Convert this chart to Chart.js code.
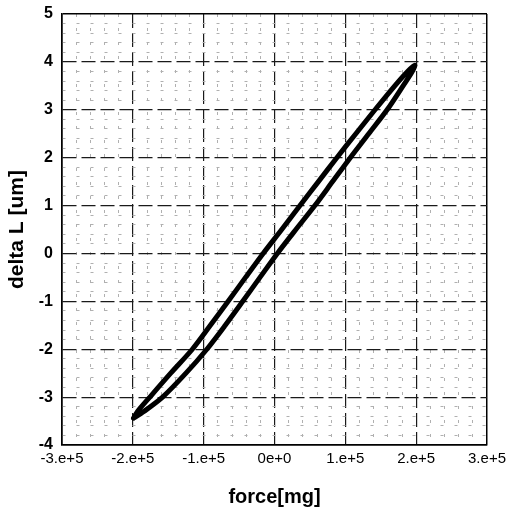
<!DOCTYPE html>
<html>
<head>
<meta charset="utf-8">
<script src="https://cdn.jsdelivr.net/npm/chart.js@4/dist/chart.umd.min.js"></script>
<style>
  html, body { margin: 0; padding: 0; background: #fff; }
  #wrap { width: 507px; height: 514px; position: relative; }
</style>
</head>
<body>
<div id="wrap"><canvas id="c"></canvas></div>
<script>
// Loading branch (upper/left side of the loop), from bottom tip to top tip
const upperForce = [-199000, -193400, -176000, -146500, -116000, -90500, -65400, -40900, -16000, 10200, 36000, 62000, 88000, 114800, 141900, 169800, 187900, 198000];
const upperDelta = [-3.44, -3.3, -3.0, -2.5, -2.0, -1.5, -1.0, -0.5, 0.0, 0.5, 1.0, 1.5, 2.0, 2.5, 3.0, 3.5, 3.8, 3.93];
// Unloading branch (lower/right side), from top tip back to bottom tip
const lowerForce = [198000, 194500, 181500, 159000, 133000, 107000, 82000, 57000, 30200, 4000, -20500, -44800, -69500, -95500, -125000, -158000, -184400, -199000];
const lowerDelta = [3.93, 3.8, 3.5, 3.0, 2.5, 2.0, 1.5, 1.0, 0.5, 0.0, -0.5, -1.0, -1.5, -2.0, -2.5, -3.0, -3.3, -3.44];

const xTickValues = [-300000, -200000, -100000, 0, 100000, 200000, 300000];
const xTickLabels = ['-3.e+5', '-2.e+5', '-1.e+5', '0e+0', '1.e+5', '2.e+5', '3.e+5'];
const yTickValues = [-4, -3, -2, -1, 0, 1, 2, 3, 4, 5];
const yTickLabels = ['-4', '-3', '-2', '-1', '0', '1', '2', '3', '4', '5'];

const loop = [];
upperForce.forEach((f, i) => loop.push({ x: f, y: upperDelta[i] }));
lowerForce.forEach((f, i) => { if (i > 0) loop.push({ x: f, y: lowerDelta[i] }); });

const X_MIN = -300000, X_MAX = 300000, Y_MIN = -4, Y_MAX = 5;

function majorIndex(values, v, tol) {
  for (let i = 0; i < values.length; i++) if (Math.abs(values[i] - v) < tol) return i;
  return -1;
}

function gridOpts(values, tol, min, max) {
  const isEdge = v => Math.abs(v - min) < tol || Math.abs(v - max) < tol;
  return {
    grid: {
      drawTicks: false,
      color: ctx => {
        const v = ctx.tick ? ctx.tick.value : 0;
        if (isEdge(v)) return '#000';
        return majorIndex(values, v, tol) >= 0 ? '#1a1a1a' : '#b0b0b0';
      },
      lineWidth: ctx => {
        const v = ctx.tick ? ctx.tick.value : 0;
        if (isEdge(v)) return 1.5;
        return majorIndex(values, v, tol) >= 0 ? 1.2 : 1;
      }
    },
    border: {
      display: true,
      color: '#000',
      width: 1.5,
      dash: ctx => {
        const v = ctx.tick ? ctx.tick.value : 0;
        if (isEdge(v)) return [];
        return majorIndex(values, v, tol) >= 0 ? [14, 5] : [3, 11];
      }
    }
  };
}

const xg = gridOpts(xTickValues, 1, X_MIN, X_MAX);
const yg = gridOpts(yTickValues, 1e-6, Y_MIN, Y_MAX);

new Chart(document.getElementById('c'), {
  type: 'scatter',
  data: {
    datasets: [{
      data: loop,
      showLine: true,
      borderColor: '#000',
      borderWidth: 5,
      pointRadius: 0,
      tension: 0.3,
      borderJoinStyle: 'round',
      borderCapStyle: 'round',
      fill: false
    }]
  },
  options: {
    responsive: true,
    maintainAspectRatio: false,
    animation: false,
    events: [],
    layout: { padding: { top: 14, right: 20, left: 0, bottom: 0 } },
    plugins: { legend: { display: false }, tooltip: { enabled: false } },
    scales: {
      x: {
        type: 'linear',
        min: X_MIN, max: X_MAX,
        afterFit: s => { s.height = 69; s.paddingLeft = 0; s.paddingRight = 0; },
        ticks: {
          stepSize: 20000,
          autoSkip: false,
          maxRotation: 0,
          padding: 5,
          color: '#000',
          font: { family: 'Liberation Sans, Arial, sans-serif', size: 15 },
          callback: v => {
            const i = majorIndex(xTickValues, v, 1);
            return i >= 0 ? xTickLabels[i] : '';
          }
        },
        grid: xg.grid,
        border: xg.border,
        title: {
          display: true,
          text: 'force[mg]',
          color: '#000',
          font: { family: 'Liberation Sans, Arial, sans-serif', size: 20, weight: 'bold' },
          padding: { top: 0, bottom: 5 }
        }
      },
      y: {
        type: 'linear',
        min: Y_MIN, max: Y_MAX,
        afterFit: s => { s.width = 62; s.paddingTop = 0; s.paddingBottom = 0; },
        ticks: {
          stepSize: 0.2,
          autoSkip: false,
          padding: 9,
          color: '#000',
          font: { family: 'Liberation Sans, Arial, sans-serif', size: 16, weight: 'bold' },
          callback: v => {
            const i = majorIndex(yTickValues, v, 1e-6);
            return i >= 0 ? yTickLabels[i] : '';
          }
        },
        grid: yg.grid,
        border: yg.border,
        title: {
          display: true,
          text: 'delta L [um]',
          color: '#000',
          font: { family: 'Liberation Sans, Arial, sans-serif', size: 21, weight: 'bold' },
          padding: { top: 5, bottom: 0 }
        }
      }
    }
  },
  plugins: [{
    id: 'bg',
    beforeDraw: chart => {
      const c = chart.ctx;
      c.save();
      c.fillStyle = '#fff';
      c.fillRect(0, 0, chart.width, chart.height);
      c.restore();
    }
  }]
});
</script>
</body>
</html>
